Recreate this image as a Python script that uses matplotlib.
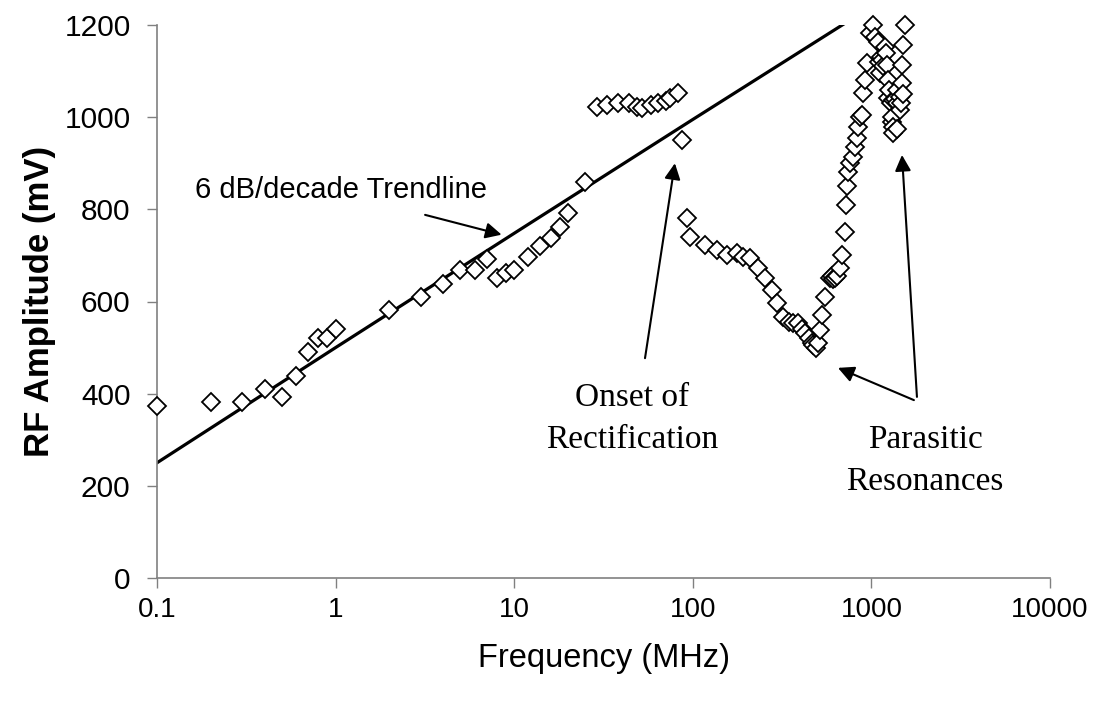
import matplotlib
matplotlib.use("Agg")
import matplotlib.pyplot as plt
from matplotlib.ticker import FixedLocator, FixedFormatter, NullLocator

# ---- data ----
freq_mhz = [0.1, 0.2, 0.3, 0.4, 0.5, 0.6, 0.7, 0.8, 0.9, 1, 2, 3, 4, 5, 6, 7, 8, 9, 10,
            12, 14, 16, 18, 20, 25,
            29, 33, 38, 44, 49, 52, 58, 64, 71, 75, 83, 87,
            93, 97, 117, 136, 155, 177, 190, 209, 232, 253, 278, 296, 320, 345, 364, 388,
            410, 425, 445, 465, 471, 490, 500, 515, 529, 550, 587, 600, 610, 625, 640,
            667, 684, 711, 721, 730, 740, 759, 789, 810, 831, 842, 863, 886, 898, 921,
            945, 982, 1020, 1047, 1089, 1100, 1117, 1130, 1146, 1160, 1191, 1200, 1222,
            1238, 1238, 1250, 1280, 1300, 1304, 1320, 1320, 1320, 1350, 1390, 1400, 1400,
            1445, 1445, 1460, 1480, 1480, 1500, 1503, 1542]
amp_mv = [373, 381, 381, 410, 392, 438, 490, 521, 520, 540, 581, 609, 639, 668, 669, 693, 651, 662, 668,
          697, 720, 738, 762, 792, 859,
          1022, 1026, 1030, 1031, 1021, 1020, 1026, 1031, 1035, 1042, 1052, 950,
          781, 740, 723, 712, 701, 705, 697, 694, 673, 651, 625, 597, 566, 555, 553, 553,
          540, 531, 520, 510, 505, 500, 510, 538, 571, 610, 651, 655, 648, 652, 655,
          673, 700, 751, 809, 851, 881, 900, 914, 935, 955, 979, 1000, 1005, 1052, 1081,
          1118, 1183, 1200, 1174, 1163, 1120, 1096, 1130, 1124, 1110, 1152, 1140, 1113,
          1081, 1042, 1060, 1030, 990, 1000, 1037, 979, 966, 1040, 1059, 1030, 975,
          1044, 1016, 1030, 1113, 1074, 1050, 1157, 1200]

trend_x = [0.1, 1, 10, 100, 1000]
trend_y = [250, 500, 748, 995, 1240]

x_ticks = [0.1, 1, 10, 100, 1000, 10000]
x_tick_labels = ["0.1", "1", "10", "100", "1000", "10000"]
y_ticks = [0, 200, 400, 600, 800, 1000, 1200]

SANS = ["Liberation Sans", "DejaVu Sans"]
SERIF = ["Liberation Serif", "DejaVu Serif"]

fig = plt.figure(figsize=(10.99, 7.09), dpi=100)
ax = fig.add_axes([157 / 1099, 1 - 578 / 709, (1050 - 157) / 1099, (578 - 25) / 709])

ax.plot(trend_x, trend_y, color="black", lw=2.3, zorder=2)
ax.plot(freq_mhz, amp_mv, linestyle="none", marker="D", markersize=9,
        markerfacecolor="white", markeredgecolor="black", markeredgewidth=1.3,
        zorder=3, clip_on=False)

ax.set_xscale("log")
ax.set_xlim(0.1, 10000)
ax.set_ylim(0, 1200)
ax.xaxis.set_major_locator(FixedLocator(x_ticks))
ax.xaxis.set_major_formatter(FixedFormatter(x_tick_labels))
ax.xaxis.set_minor_locator(NullLocator())
ax.set_yticks(y_ticks)

for s in ["top", "right"]:
    ax.spines[s].set_visible(False)
for s in ["left", "bottom"]:
    ax.spines[s].set_color("#808080")
    ax.spines[s].set_linewidth(1.2)

ax.tick_params(axis="x", direction="out", length=7, width=1, color="#808080",
               pad=7, labelsize=20)
ax.tick_params(axis="y", direction="out", length=7, width=1, color="#808080",
               pad=12, labelsize=21.5)
for lab in ax.get_xticklabels() + ax.get_yticklabels():
    lab.set_family(SANS)

ax.set_xlabel("Frequency (MHz)", fontsize=23.5, family=SANS, labelpad=14)
ax.set_ylabel("RF Amplitude (mV)", fontsize=25, family=SANS, fontweight="bold", labelpad=6)

arrow = dict(arrowstyle="-|>", color="black", lw=1.5, mutation_scale=24,
             shrinkA=0, shrinkB=0)

ax.annotate("", xy=(8.5, 745), xytext=(3.17, 788), arrowprops=arrow)
ax.text(0.163, 842, "6 dB/decade Trendline", fontsize=21, family=SANS,
        ha="left", va="center")

ax.annotate("", xy=(79.4, 900), xytext=(54, 477), arrowprops=arrow)
ax.text(45.7, 391, "Onset of", fontsize=24, family=SERIF, ha="center", va="center")
ax.text(45.7, 300, "Rectification", fontsize=24, family=SERIF, ha="center", va="center")

ax.annotate("", xy=(1483, 918), xytext=(1799, 393), arrowprops=arrow)
ax.annotate("", xy=(650, 456), xytext=(1730, 386), arrowprops=arrow)
ax.text(1995, 300, "Parasitic", fontsize=24, family=SERIF, ha="center", va="center")
ax.text(1995, 208, "Resonances", fontsize=24, family=SERIF, ha="center", va="center")

fig.savefig("out.png", dpi=100)
